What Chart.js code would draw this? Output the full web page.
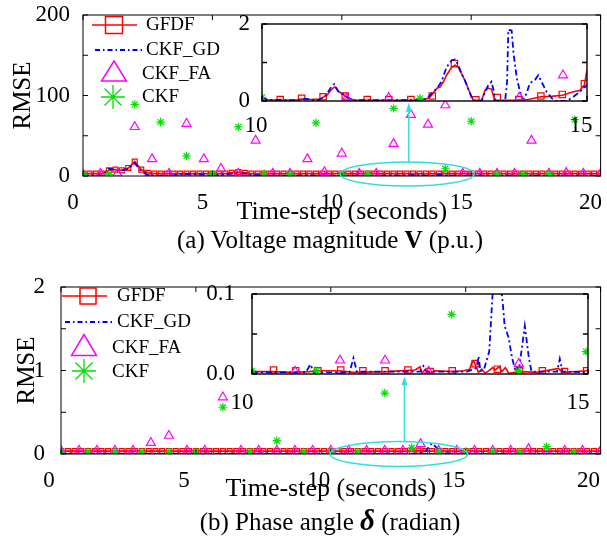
<!DOCTYPE html>
<html>
<head>
<meta charset="utf-8">
<script src="https://cdn.jsdelivr.net/npm/chart.js@4.4.1/dist/chart.umd.min.js"></script>
<style>
  body { margin: 0; background: #fff; }
  #fig { position: relative; width: 607px; height: 546px; overflow: hidden; font-family: "Liberation Serif", "Times New Roman", serif; }
  #fig canvas { position: absolute; }
  .cap { position: absolute; left: 30px; width: 600px; text-align: center; font-size: 25px; line-height: 28px; color: #000; }
  .cap .delta { font-size: 29px; }
</style>
</head>
<body>
<div id="fig">
  <canvas id="mainV" width="607" height="228" style="left:0;top:0"></canvas>
  <canvas id="insetV" width="370" height="135" style="left:225px;top:5px"></canvas>
  <div class="cap" style="top:226px">(a) Voltage magnitude <b>V</b> (p.u.)</div>
  <canvas id="mainD" width="607" height="235" style="left:0;top:270px"></canvas>
  <canvas id="insetD" width="400" height="130" style="left:200px;top:280px"></canvas>
  <div class="cap" style="top:506px">(b) Phase angle <i><b class="delta">&delta;</b></i> (radian)</div>
</div>
<script>
// ---------- data ----------
const seriesNames = ['GFDF', 'CKF_GD', 'CKF_FA', 'CKF'];

// main panels, 0-20 s
const mainTimes = [0, 0.25, 0.5, 0.75, 1, 1.25, 1.5, 1.75, 2, 2.25, 2.5, 2.75, 3, 3.25, 3.5, 3.75, 4, 4.25, 4.5, 4.75,
  5, 5.25, 5.5, 5.75, 6, 6.25, 6.5, 6.75, 7, 7.25, 7.5, 7.75, 8, 8.25, 8.5, 8.75, 9, 9.25, 9.5, 9.75,
  10, 10.25, 10.5, 10.75, 11, 11.25, 11.5, 11.75, 12, 12.25, 12.5, 12.75, 13, 13.25, 13.5, 13.75, 14, 14.25, 14.5, 14.75,
  15, 15.25, 15.5, 15.75, 16, 16.25, 16.5, 16.75, 17, 17.25, 17.5, 17.75, 18, 18.25, 18.5, 18.75, 19, 19.25, 19.5, 19.75, 20];
const faTimes = [0, 0.67, 1.33, 2, 2.67, 3.33, 4, 4.67, 5.33, 6, 6.67, 7.33, 8, 8.67, 9.33, 10, 10.67, 11.33, 12, 12.67,
  13.33, 14, 14.67, 15.33, 16, 16.67, 17.33, 18, 18.67, 19.33, 20];
const ckfTimes = [0, 1, 2, 3, 4, 5, 6, 7, 8, 9, 10, 11, 12, 13, 14, 15, 16, 17, 18, 19, 20];

// (a) voltage magnitude
const vGfdf = [3, 3, 3, 3, 7, 8, 7, 10, 18, 8, 4, 3, 3, 3, 3, 3, 3, 3, 3, 3,
  3, 3, 3, 4, 5, 4, 3, 3, 3, 3, 3, 3, 3, 3, 3, 3, 3, 3, 3, 3,
  3, 3, 3, 3, 3, 3, 3, 3, 3, 3, 3, 3, 3, 3, 3, 3, 3, 3, 3, 3,
  3, 3, 3, 3, 3, 3, 3, 3, 3, 3, 3, 3, 3, 3, 3, 3, 3, 3, 3, 3, 3];
const vCkfGd = [0.5, 0.5, 0.5, 0.5, 9, 8, 7, 9, 16, 6, 1.5, 0.5, 0.5, 0.5, 1, 2, 2.5, 2.5, 2, 1.5,
  1, 1, 2, 3, 4, 3, 1.5, 1, 1, 0.5, 0.5, 0.5, 0.5, 0.5, 0.5, 0.5, 0.5, 0.5, 0.5, 0.5,
  0.5, 0.5, 0.5, 0.5, 0.5, 0.5, 0.5, 0.5, 0.5, 0.5, 0.5, 1, 1, 0.5, 0.5, 1.5, 0.5, 0.5, 0.5, 0.5,
  0.5, 0.5, 0.5, 0.5, 0.5, 0.5, 0.5, 0.5, 0.5, 0.5, 0.5, 0.5, 0.5, 0.5, 0.5, 0.5, 0.5, 0.5, 0.5, 0.5, 0.5];
const vCkfFa = [2, 3, 3, 61, 21, 3, 65, 21, 9, 3, 44, 3, 3, 21, 5, 28, 3, 3, 40, 76,
  64, 88, 3, 3, 3, 3, 44, 3, 4, 3, 3];
const vCkf = [2, 2, 89, 67, 25, 2, 61, 3, 2, 66, 2, 2, 84, null, 9, 68, 2, 2, 2, 70, null];

// (a) inset, 10-15 s
const vInGdTimes = [10.0, 10.08, 10.55, 10.66, 10.76, 10.86, 10.94, 10.99, 11.07, 11.11, 11.17, 11.23, 11.29, 11.34, 11.4,
  12.43, 12.53, 12.64, 12.71, 12.76, 12.84, 12.92, 12.97, 13.02, 13.07, 13.12, 13.17, 13.22, 13.28, 13.38,
  13.43, 13.48, 13.53, 13.56, 13.59, 13.74, 13.77, 13.79, 13.84, 13.87, 13.92, 13.97, 14.02, 14.07, 14.12,
  14.2, 14.25, 14.3, 14.38, 14.46, 14.53, 14.69, 14.79, 14.89, 15.0];
const vInGd = [0.1, 0.03, 0.02, 0.06, 0.03, 0.02, 0.09, 0.16, 0.38, 0.44, 0.25, 0.2, 0.13, 0.07, 0.02,
  0.02, 0.06, 0.24, 0.37, 0.5, 0.88, 1.06, 1.08, 0.93, 0.71, 0.54, 0.33, 0.11, 0.0, 0.0,
  0.24, 0.4, 0.5, 0.3, 0.0, 0.0, 0.5, 1.85, 1.83, 1.23, 0.59, 0.24, 0.02, 0.2, 0.46,
  0.55, 0.67, 0.5, 0.24, 0.07, 0.0, 0.0, 0.11, 0.24, 0.42];
const vInGfTimes = [10.0, 10.1, 10.5, 10.61, 10.75, 10.9, 10.94, 11.0, 11.07, 11.12, 11.18, 11.28, 11.34, 11.42,
  12.4, 12.5, 12.58, 12.69, 12.74, 12.79, 12.84, 12.92, 12.97, 13.02, 13.07, 13.12, 13.17, 13.25,
  13.38, 13.43, 13.48, 13.53, 13.58, 13.97, 14.1, 14.29, 14.45, 14.62, 14.79, 14.89, 14.96, 15.0];
const vInGf = [0.05, 0.03, 0.02, 0.05, 0.04, 0.05, 0.1, 0.15, 0.3, 0.37, 0.25, 0.13, 0.07, 0.02,
  0.02, 0.04, 0.09, 0.33, 0.36, 0.5, 0.67, 0.88, 0.93, 0.88, 0.71, 0.54, 0.33, 0.02,
  0.02, 0.28, 0.33, 0.31, 0.02, 0.02, 0.04, 0.11, 0.12, 0.15, 0.24, 0.27, 0.42, 0.8];
const vInSqTimes = [10.28, 10.61, 10.94, 11.28, 11.62, 11.95, 12.29, 12.62, 12.96, 13.29, 13.62, 13.95, 14.29, 14.62, 14.96];
const vInSq = [0.04, 0.07, 0.11, 0.13, 0.04, 0.04, 0.04, 0.13, 0.97, 0.03, 0.09, 0.04, 0.13, 0.17, 0.45];
const vInFaTimes = [11.3, 11.95, 13.96, 14.63];
const vInFa = [0.07, 0.085, 0.095, 0.67];
const vInCkfTimes = [10.0, 12.43];
const vInCkf = [0.095, 0.07];

// (b) phase angle
const dGfdf = [0.035, 0.035, 0.035, 0.035, 0.035, 0.035, 0.035, 0.035, 0.035, 0.035, 0.035, 0.035, 0.035, 0.035, 0.035, 0.035, 0.035, 0.035, 0.035, 0.035,
  0.035, 0.035, 0.035, 0.035, 0.035, 0.035, 0.035, 0.035, 0.035, 0.035, 0.035, 0.035, 0.035, 0.035, 0.035, 0.035, 0.035, 0.035, 0.035, 0.035,
  0.035, 0.035, 0.035, 0.035, 0.035, 0.035, 0.035, 0.035, 0.035, 0.035, 0.035, 0.035, 0.035, 0.04, 0.035, 0.035, 0.035, 0.035, 0.035, 0.035,
  0.035, 0.035, 0.035, 0.035, 0.035, 0.035, 0.035, 0.035, 0.035, 0.035, 0.035, 0.035, 0.035, 0.035, 0.035, 0.035, 0.035, 0.035, 0.035, 0.035, 0.035];
const dCkfGd = [0.004, 0.004, 0.004, 0.004, 0.004, 0.004, 0.004, 0.004, 0.004, 0.004, 0.004, 0.004, 0.004, 0.004, 0.004, 0.004, 0.004, 0.004, 0.004, 0.004,
  0.004, 0.004, 0.004, 0.004, 0.004, 0.004, 0.004, 0.004, 0.004, 0.004, 0.004, 0.004, 0.004, 0.004, 0.004, 0.004, 0.004, 0.004, 0.004, 0.004,
  0.004, 0.004, 0.004, 0.004, 0.004, 0.004, 0.004, 0.004, 0.004, 0.004, 0.004, 0.004, 0.004, 0.004, 0.03, 0.13, 0.05, 0.01, 0.004, 0.004,
  0.004, 0.004, 0.004, 0.004, 0.004, 0.004, 0.004, 0.004, 0.004, 0.004, 0.004, 0.004, 0.004, 0.004, 0.004, 0.004, 0.004, 0.004, 0.004, 0.004, 0.004];
const dCkfFa = [0.04, 0.04, 0.04, 0.04, 0.04, 0.135, 0.22, 0.04, 0.04, 0.68, 0.04, 0.04, 0.04, 0.04, 0.04, 0.04, 0.04, 0.04, 0.04, 0.04,
  0.12, 0.04, 0.04, 0.04, 0.04, 0.04, 0.06, 0.04, 0.04, 0.04, 0.04];
const dCkf = [0.025, 0.025, 0.025, 0.025, 0.025, 0.025, 0.56, 0.025, 0.16, 0.025, 0.025, 0.025, 0.73, 0.075, 0.025, 0.03, 0.025, 0.025, 0.088, 0.025, null];

// (b) inset, 10-15 s
const dInGdTimes = [10.0, 10.8, 10.87, 10.92, 11.45, 11.51, 11.56, 12.5, 12.55, 12.6, 13.2, 13.3, 13.34, 13.37, 13.4, 13.45,
  13.53, 13.58, 13.63, 13.73, 13.76, 13.82, 13.87, 13.92, 13.98, 14.06, 14.12, 14.16, 14.54, 14.58, 14.62, 15.0];
const dInGd = [0.002, 0.002, 0.012, 0.002, 0.002, 0.02, 0.003, 0.003, 0.01, 0.003, 0.003, 0.006, 0.008, 0.022, 0.004, 0.005,
  0.028, 0.1, 0.16, 0.09, 0.06, 0.045, 0.02, 0.004, 0.01, 0.06, 0.02, 0.003, 0.003, 0.019, 0.003, 0.002];
const dInGfTimes = [10.0, 10.3, 10.6, 10.85, 11.0, 11.3, 11.5, 12.0, 12.43, 12.5, 12.53, 12.58, 12.65, 12.72, 13.0, 13.15, 13.24, 13.27,
  13.3, 13.34, 13.37, 13.42, 13.47, 13.52, 13.58, 13.62, 13.68, 13.72, 13.77, 13.82, 14.0, 14.25, 14.56, 14.62, 15.0];
const dInGf = [0.003, 0.003, 0.002, 0.003, 0.004, 0.004, 0.002, 0.003, 0.005, 0.009, 0.001, 0.006, 0.001, 0.004, 0.003, 0.004, 0.006, 0.014,
  0.016, 0.008, 0.002, 0.006, 0.001, 0.004, 0.008, 0.005, 0.009, 0.003, 0.008, 0.001, 0.003, 0.002, 0.007, 0.002, 0.004];
const dInSqTimes = [10.32, 10.65, 10.98, 11.32, 11.65, 11.98, 12.32, 12.65, 12.98, 13.32, 13.65, 13.98, 14.32, 14.65, 14.98];
const dInSq = [0.005, 0.004, 0.004, 0.005, 0.004, 0.004, 0.005, 0.003, 0.004, 0.013, 0.006, 0.004, 0.004, 0.003, 0.004];
const dInFaTimes = [10.64, 11.31, 11.98, 12.63, 13.97];
const dInFa = [0.003, 0.017, 0.017, 0.003, 0.0128];
const dInCkfTimes = [10.0, 10.96, 12.97, 13.97, 14.97];
const dInCkf = [0.004, 0.004, 0.0746, 0.004, 0.028];

// ---------- styling ----------
const RED = '#ff0000', BLUE = '#0000ff', MAG = '#ff00ff', GREEN = '#00e000', CYAN = '#30dede';
const NONE = 'rgba(0,0,0,0)';
Chart.defaults.font.family = '"Liberation Serif", "Times New Roman", serif';
Chart.defaults.color = '#000';

const pts = (xs, ys) => xs.map((x, i) => ({ x: x, y: ys[i] }));

function makeDatasets(s, sz) {
  return [
    { data: pts(s.ckfT, s.ckf), showLine: false, pointStyle: 'star', pointRadius: sz.star,
      pointBorderColor: GREEN, pointBackgroundColor: GREEN, pointBorderWidth: 1.2 },
    { data: pts(s.faT, s.fa), showLine: false, pointStyle: 'triangle', pointRadius: sz.tri,
      pointBorderColor: MAG, pointBackgroundColor: NONE, pointBorderWidth: 1.2 },
    { data: pts(s.gdT, s.gd), showLine: true, borderColor: BLUE, borderWidth: 1.8,
      borderDash: [6, 3, 2, 3], pointRadius: 0, tension: 0 },
    { data: pts(s.sqT, s.sq), showLine: false, pointStyle: 'rect', pointRadius: sz.sq,
      pointBorderColor: RED, pointBackgroundColor: NONE, pointBorderWidth: 1.2 },
    { data: pts(s.gfT, s.gf), showLine: true, borderColor: RED, borderWidth: 1.6, pointRadius: 0, tension: 0 }
  ];
}

// box round the plot area with inward ticks, optional white fill for insets
const framePlugin = {
  id: 'frame',
  beforeDraw(chart, args, o) {
    if (!o.fill) return;
    const a = chart.chartArea, ctx = chart.ctx;
    ctx.save();
    ctx.fillStyle = '#fff';
    ctx.fillRect(a.left, a.top, a.width, a.height);
    ctx.restore();
  },
  afterDatasetsDraw(chart, args, o) {
    const { ctx, chartArea: a, scales: { x, y } } = chart;
    const len = 5;
    ctx.save();
    ctx.strokeStyle = '#000';
    ctx.lineWidth = o.width || 1;
    ctx.strokeRect(a.left, a.top, a.width, a.height);
    ctx.beginPath();
    x.ticks.forEach(t => {
      const px = x.getPixelForValue(t.value);
      ctx.moveTo(px, a.bottom); ctx.lineTo(px, a.bottom - len);
      ctx.moveTo(px, a.top); ctx.lineTo(px, a.top + len);
    });
    y.ticks.forEach(t => {
      const py = y.getPixelForValue(t.value);
      ctx.moveTo(a.left, py); ctx.lineTo(a.left + len, py);
      ctx.moveTo(a.right, py); ctx.lineTo(a.right - len, py);
    });
    ctx.stroke();
    ctx.restore();
  }
};

// cyan ellipse + arrow pointing at the inset
const calloutPlugin = {
  id: 'callout',
  afterDatasetsDraw(chart, args, o) {
    if (o.cx === undefined) return;
    const { ctx, scales: { x, y } } = chart;
    const cx = x.getPixelForValue(o.cx), cy = y.getPixelForValue(o.cy);
    const rx = x.getPixelForValue(o.cx + o.rx) - cx;
    const ry = cy - y.getPixelForValue(o.cy + o.ry);
    const ax = x.getPixelForValue(o.ax), a0 = y.getPixelForValue(o.ay0), a1 = y.getPixelForValue(o.ay1);
    ctx.save();
    ctx.strokeStyle = CYAN; ctx.fillStyle = CYAN; ctx.lineWidth = 1.5;
    ctx.beginPath(); ctx.ellipse(cx, cy, rx, ry, 0, 0, 2 * Math.PI); ctx.stroke();
    ctx.beginPath(); ctx.moveTo(ax, a0); ctx.lineTo(ax, a1 + 6); ctx.stroke();
    ctx.beginPath(); ctx.moveTo(ax, a1); ctx.lineTo(ax - 3, a1 + 9); ctx.lineTo(ax + 3, a1 + 9); ctx.closePath(); ctx.fill();
    ctx.restore();
  }
};

// hand-drawn legend with the big markers
const keyPlugin = {
  id: 'key',
  afterDraw(chart, args, o) {
    if (!o.rows) return;
    const ctx = chart.ctx;
    const r = o.rows;
    ctx.save();
    ctx.lineWidth = 1.5;
    // GFDF
    ctx.strokeStyle = RED;
    ctx.beginPath(); ctx.moveTo(r[0].x0, r[0].y); ctx.lineTo(r[0].x1, r[0].y); ctx.stroke();
    ctx.strokeRect(r[0].cx - r[0].s / 2, r[0].y - r[0].s / 2, r[0].s, r[0].s);
    // CKF_GD
    ctx.strokeStyle = BLUE; ctx.lineWidth = 1.8; ctx.setLineDash([5, 3, 1.5, 3]);
    ctx.beginPath(); ctx.moveTo(r[1].x0, r[1].y); ctx.lineTo(r[1].x1, r[1].y); ctx.stroke();
    ctx.setLineDash([]); ctx.lineWidth = 1.5;
    // CKF_FA
    ctx.strokeStyle = MAG;
    ctx.beginPath();
    ctx.moveTo(r[2].cx, r[2].y - r[2].h / 2);
    ctx.lineTo(r[2].cx + r[2].w / 2, r[2].y + r[2].h / 2);
    ctx.lineTo(r[2].cx - r[2].w / 2, r[2].y + r[2].h / 2);
    ctx.closePath(); ctx.stroke();
    // CKF
    ctx.strokeStyle = GREEN; ctx.lineWidth = 1.3;
    ctx.beginPath();
    for (let k = 0; k < 4; k++) {
      const ang = k * Math.PI / 4;
      ctx.moveTo(r[3].cx - Math.cos(ang) * r[3].s, r[3].y - Math.sin(ang) * r[3].s);
      ctx.lineTo(r[3].cx + Math.cos(ang) * r[3].s, r[3].y + Math.sin(ang) * r[3].s);
    }
    ctx.stroke();
    ctx.fillStyle = '#000';
    ctx.font = '19px "Liberation Serif", serif';
    ctx.textBaseline = 'middle';
    r.forEach((row, i) => ctx.fillText(seriesNames[i], row.tx, row.ty));
    ctx.restore();
  }
};

function makeChart(id, cfg) {
  const near = (a, b) => Math.abs(a - b) < 1e-9;
  return new Chart(document.getElementById(id), {
    type: 'scatter',
    data: { datasets: makeDatasets(cfg.series, cfg.sizes) },
    options: {
      responsive: false,
      animation: false,
      events: [],
      layout: { padding: { left: 0, top: cfg.box.top, right: cfg.box.right, bottom: 0 } },
      scales: {
        x: {
          type: 'linear', min: cfg.x[0], max: cfg.x[1],
          grid: { display: false }, border: { display: false },
          ticks: { stepSize: 5, autoSkip: false, maxRotation: 0, padding: cfg.box.xPad, labelOffset: cfg.box.xOff,
            color: '#000', font: { size: 23 } },
          title: { display: !!cfg.xTitle, text: cfg.xTitle || '', color: '#000', font: { size: 26 }, padding: { top: 0, bottom: 0 } },
          afterFit: s => { s.height = cfg.box.xH; s.paddingLeft = 0; s.paddingRight = 0; }
        },
        y: {
          type: 'linear', min: cfg.y[0], max: cfg.y[1],
          grid: { display: false }, border: { display: false },
          ticks: { stepSize: cfg.y[2], autoSkip: false, padding: cfg.box.yPad, color: '#000', font: { size: 23 },
            callback: v => (cfg.yLabels.some(l => near(l, v)) ? cfg.yFmt(v) : '') },
          title: { display: !!cfg.yTitle, text: cfg.yTitle || '', color: '#000', font: { size: 25 }, padding: { top: cfg.box.yTitlePad, bottom: 0 } },
          afterFit: s => { s.width = cfg.box.yW; s.paddingTop = 0; s.paddingBottom = 0; }
        }
      },
      plugins: {
        legend: { display: false },
        tooltip: { enabled: false },
        frame: { fill: !!cfg.inset, width: cfg.inset ? 1.4 : 1 },
        callout: cfg.callout || {},
        key: cfg.key || {}
      }
    },
    plugins: [framePlugin, calloutPlugin, keyPlugin]
  });
}

const mainSizes = { star: 4.2, tri: 5.2, sq: 3.5 };
const insetSizes = { star: 4.2, tri: 5.2, sq: 4.5 };

// (a) main
makeChart('mainV', {
  series: { ckfT: ckfTimes, ckf: vCkf, faT: faTimes, fa: vCkfFa, gdT: mainTimes, gd: vCkfGd,
    sqT: mainTimes, sq: vGfdf, gfT: mainTimes, gf: vGfdf },
  sizes: mainSizes,
  x: [0, 20], y: [0, 200, 50], yLabels: [0, 100, 200], yFmt: v => String(v),
  xTitle: 'Time-step (seconds)', yTitle: 'RMSE',
  box: { top: 15, right: 3, yW: 83, xH: 52, xPad: 5, xOff: -10, yPad: 5, yTitlePad: 8 },
  callout: { cx: 12.53, cy: 2.5, rx: 2.59, ry: 15, ax: 12.59, ay0: 17.5, ay1: 91 },
  key: { rows: [
    { x0: 92, x1: 137, cx: 114, y: 25, s: 17, tx: 146, ty: 25 },
    { x0: 95, x1: 143, y: 50, tx: 146, ty: 50 },
    { cx: 114, y: 71, w: 25, h: 20, tx: 142, ty: 74 },
    { cx: 113, y: 97, s: 12, tx: 142, ty: 97 }
  ] }
});

// (a) inset
makeChart('insetV', {
  inset: true,
  series: { ckfT: vInCkfTimes, ckf: vInCkf, faT: vInFaTimes, fa: vInFa, gdT: vInGdTimes, gd: vInGd,
    sqT: vInSqTimes, sq: vInSq, gfT: vInGfTimes, gf: vInGf },
  sizes: insetSizes,
  x: [10, 15], y: [0, 2, 1], yLabels: [0, 2], yFmt: v => String(v),
  box: { top: 19, right: 8, yW: 37, xH: 39, xPad: 3, xOff: -6, yPad: 4, yTitlePad: 0 }
});

// (b) main
makeChart('mainD', {
  series: { ckfT: ckfTimes, ckf: dCkf, faT: faTimes, fa: dCkfFa, gdT: mainTimes, gd: dCkfGd,
    sqT: mainTimes, sq: dGfdf, gfT: mainTimes, gf: dGfdf },
  sizes: mainSizes,
  x: [0, 20], y: [0, 2, 0.5], yLabels: [0, 1, 2], yFmt: v => String(v),
  xTitle: 'Time-step (seconds)', yTitle: 'RMSE',
  box: { top: 17, right: 3, yW: 61, xH: 51, xPad: 5, xOff: -12, yPad: 8, yTitlePad: 12 },
  callout: { cx: 12.52, cy: 0, rx: 2.55, ry: 0.15, ax: 12.73, ay0: 0.15, ay1: 0.93 },
  key: { rows: [
    { x0: 62, x1: 107, cx: 88, y: 26, s: 16, tx: 117, ty: 26 },
    { x0: 65, x1: 112, y: 52, tx: 117, ty: 52 },
    { cx: 84, y: 75, w: 25, h: 21, tx: 112, ty: 78 },
    { cx: 84, y: 101, s: 12, tx: 112, ty: 102 }
  ] }
});

// (b) inset
makeChart('insetD', {
  inset: true,
  series: { ckfT: dInCkfTimes, ckf: dInCkf, faT: dInFaTimes, fa: dInFa, gdT: dInGdTimes, gd: dInGd,
    sqT: dInSqTimes, sq: dInSq, gfT: dInGfTimes, gf: dInGf },
  sizes: insetSizes,
  x: [10, 15], y: [0, 0.1, 0.05], yLabels: [0, 0.1], yFmt: v => v.toFixed(1),
  box: { top: 14, right: 12, yW: 52, xH: 36, xPad: 7, xOff: -10, yPad: 9, yTitlePad: 0 }
});
</script>
</body>
</html>
